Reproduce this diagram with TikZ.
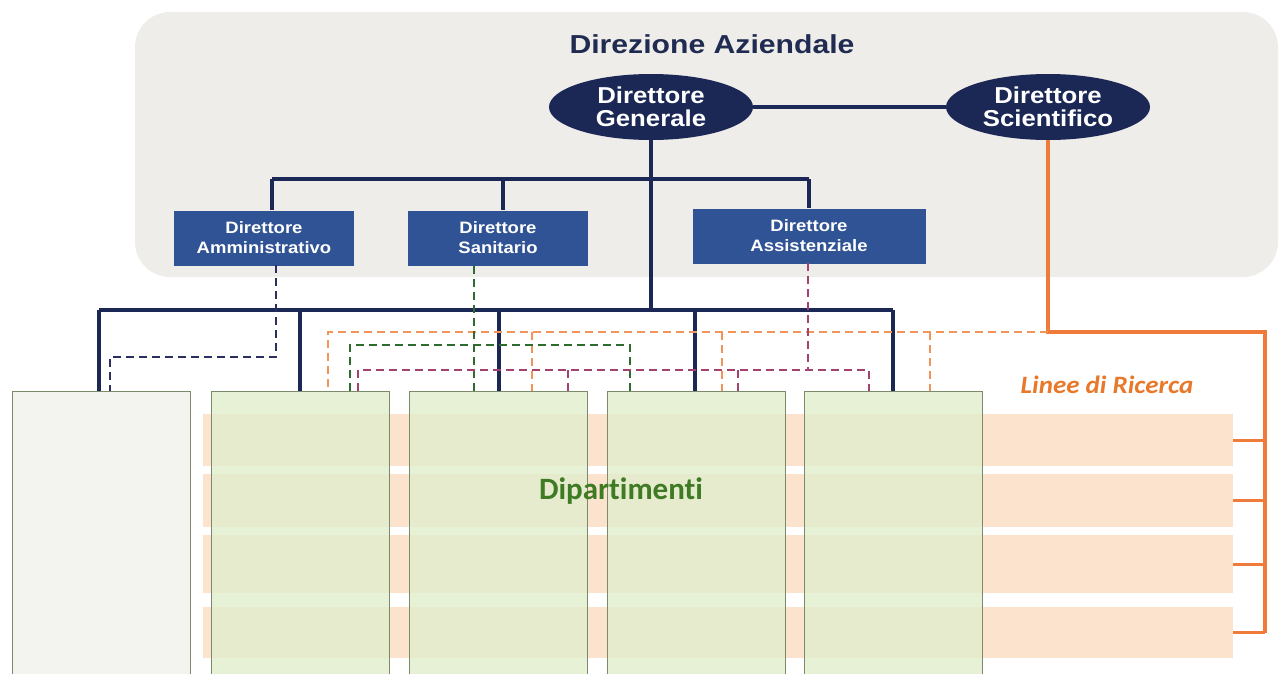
\documentclass[tikz,border=0pt]{standalone}
\usepackage{fontspec}
\setmainfont{Liberation Sans}
\newfontfamily\widesans[FakeStretch=1.12]{Liberation Sans}
\newfontfamily\titlesans[FakeStretch=1.16]{Liberation Sans}
\newfontfamily\carlito[Ligatures=NoCommon]{Carlito}
\newfontfamily\carlitowide[FakeStretch=1.08,Ligatures=NoCommon]{Carlito}
\usetikzlibrary{shapes.geometric}
\definecolor{navy}{HTML}{1B2855}
\definecolor{boxblue}{HTML}{2F5394}
\definecolor{bggray}{HTML}{EFEDE9}
\definecolor{band}{HTML}{FBE3CD}
\definecolor{deptgreen}{HTML}{E0EECC}
\definecolor{deptgray}{HTML}{F3F3F0}
\definecolor{deptborder}{HTML}{7A8A6A}
\definecolor{orangesolid}{HTML}{F07A3A}
\definecolor{orangedash}{HTML}{F2955A}
\definecolor{greendash}{HTML}{2E6B2E}
\definecolor{magdash}{HTML}{A3426E}
\definecolor{navydash}{HTML}{2B2F60}
\definecolor{titlecol}{HTML}{1F2B50}
\definecolor{dipgreen}{HTML}{3F7A25}
\definecolor{linee}{HTML}{E8782A}
\tikzset{
  ellnode/.style={ellipse, fill=navy, text=white, minimum width=204, minimum height=66, inner sep=0,
    align=center, font=\widesans\fontsize{23}{23.5}\selectfont\bfseries},
  dirbox/.style={rectangle, fill=boxblue, text=white, inner sep=0, align=center,
    font=\widesans\fontsize{16.5}{20}\selectfont\bfseries},
  bandbox/.style={rectangle, fill=band, inner sep=0, anchor=north west},
  deptbox/.style={rectangle, draw=deptborder, line width=1, fill=deptgreen, fill opacity=0.8,
    inner sep=0, anchor=north west, minimum width=178, minimum height=290},
  navyline/.style={draw=navy, line width=4.2},
  orangeline/.style={draw=orangesolid, line width=3.4},
  dashline/.style={line width=2.8, dash pattern=on 8pt off 5pt},
}
\begin{document}
\begin{tikzpicture}[x=1pt,y=-1pt]
\useasboundingbox (0,0) rectangle (1283,673);
% background panel
\fill[bggray, rounded corners=35] (135,12) rectangle (1278,277);
\node[font=\titlesans\fontsize{26}{28}\selectfont\bfseries, text=titlecol] (title) at (712,44) {Direzione Aziendale};
% ellipses
\node[ellnode] (dg) at (651,107) {Direttore\\Generale};
\node[ellnode] (dsc) at (1048,107) {Direttore\\Scientifico};
% director boxes
\node[dirbox, minimum width=180, minimum height=55] (dam) at (264,238) {Direttore\\Amministrativo};
\node[dirbox, minimum width=180, minimum height=55] (dsa) at (498,238) {Direttore\\Sanitario};
\node[dirbox, minimum width=233, minimum height=55] (das) at (809,236) {Direttore\\Assistenziale};
% research bands
\node[bandbox, minimum width=1030, minimum height=52] (b1) at (203,414) {};
\node[bandbox, minimum width=1030, minimum height=53] (b2) at (203,474) {};
\node[bandbox, minimum width=1030, minimum height=58] (b3) at (203,535) {};
\node[bandbox, minimum width=1030, minimum height=51] (b4) at (203,607) {};
% departments
\node[deptbox, fill=deptgray, fill opacity=1] (d1) at (12,391) {};
\node[deptbox] (d2) at (211,391) {};
\node[deptbox] (d3) at (409,391) {};
\node[deptbox] (d4) at (607,391) {};
\node[deptbox] (d5) at (804,391) {};
\node[font=\carlito\fontsize{31}{33}\selectfont\bfseries, text=dipgreen] (dip) at (621,491) {Dipartimenti};
\node[font=\carlitowide\fontsize{25}{27}\selectfont\bfseries\itshape, text=linee] (lr) at (1107,385) {Linee di Ricerca};
% coordinates
\coordinate (tl) at (272,179);
\coordinate (tm) at (503,179);
\coordinate (tr) at (809,179);
\coordinate (bl) at (99,310);
\coordinate (bc) at (651,310);
\coordinate (br) at (893,310);
\coordinate (v2) at (300,310);
\coordinate (v3) at (499,310);
\coordinate (v4) at (695,310);
\coordinate (o1) at (1048,332);
\coordinate (o2) at (1265,332);
\coordinate (o3) at (1265,633);
% navy solid connectors
\draw[navyline] (dg) -- (dsc);
\draw[navyline] (dg.south) -- (bc);
\draw[navyline] (tl) -- (tr);
\draw[navyline] (tl) -- (tl |- dam.north);
\draw[navyline] (tm) -- (tm |- dsa.north);
\draw[navyline] (tr) -- (das.north);
\draw[navyline] (bl) -- (br);
\draw[navyline] (bl) -- (bl |- d1.north);
\draw[navyline] (v2) -- (v2 |- d2.north);
\draw[navyline] (v3) -- (v3 |- d3.north);
\draw[navyline] (v4) -- (v4 |- d4.north);
\draw[navyline] (br) -- (br |- d5.north);
% orange solid
\draw[orangeline] (dsc.south) -- (o1) -- (o2) -- (o3);
\draw[orangeline] (b1.east) -- (b1.east -| o2);
\draw[orangeline] (b2.east) -- (b2.east -| o2);
\draw[orangeline] (b3.east) -- (b3.east -| o2);
\draw[orangeline] (b4.east) -- (b4.east -| o2);
% orange dashed
\coordinate (od1) at (328,332);
\coordinate (od2) at (532,332);
\coordinate (od3) at (722,332);
\coordinate (od4) at (930,332);
\draw[dashline, draw=orangedash] (o1) -- (od1) -- (od1 |- d2.north);
\draw[dashline, draw=orangedash] (od2) -- (od2 |- d3.north);
\draw[dashline, draw=orangedash] (od3) -- (od3 |- d4.north);
\draw[dashline, draw=orangedash] (od4) -- (od4 |- d5.north);
% navy dashed (Amministrativo)
\coordinate (nd0) at (276,265);
\coordinate (nd1) at (276,357);
\coordinate (nd2) at (110,357);
\draw[dashline, draw=navydash] (nd0) -- (nd1) -- (nd2) -- (nd2 |- d1.north);
% green dashed (Sanitario)
\coordinate (gd0) at (474,266);
\coordinate (gl) at (350,345);
\coordinate (gr) at (630,345);
\draw[dashline, draw=greendash] (gd0) -- (gd0 |- d3.north);
\draw[dashline, draw=greendash] (gl |- d2.north) -- (gl) -- (gr) -- (gr |- d4.north);
% magenta dashed (Assistenziale)
\coordinate (md0) at (808,263);
\coordinate (ml) at (358,370);
\coordinate (mr) at (869,370);
\coordinate (m3) at (568,370);
\coordinate (m4) at (738,370);
\draw[dashline, draw=magdash] (md0) -- (md0 |- mr);
\draw[dashline, draw=magdash] (ml |- d2.north) -- (ml) -- (mr) -- (mr |- d5.north);
\draw[dashline, draw=magdash] (m3) -- (m3 |- d3.north);
\draw[dashline, draw=magdash] (m4) -- (m4 |- d4.north);
\end{tikzpicture}
\end{document}
